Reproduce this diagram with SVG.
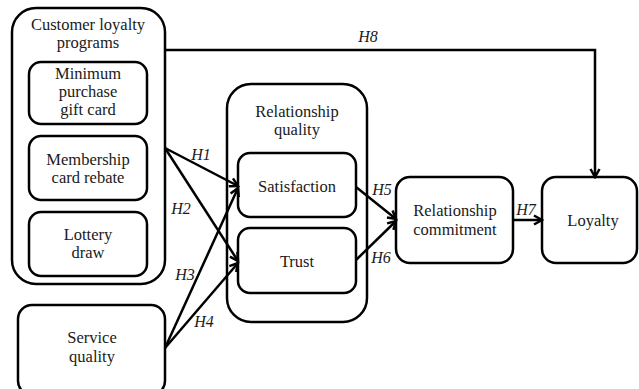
<svg xmlns="http://www.w3.org/2000/svg" width="639" height="389" viewBox="0 0 639 389">
<style>
.box{fill:#fff;stroke:#000;stroke-width:2.5}
.t{font-family:'Liberation Serif','DejaVu Serif',serif;font-size:16.5px;fill:#1a1a1a;text-anchor:middle}
.h{font-family:'Liberation Serif','DejaVu Serif',serif;font-size:16px;font-style:italic;fill:#1a1a1a;text-anchor:middle}
.c{fill:none;stroke:#000;stroke-width:2.5}
</style>
<defs>
<marker id="ah" markerWidth="12" markerHeight="12" viewBox="0 0 12 12" refX="10" refY="6" orient="auto" markerUnits="userSpaceOnUse">
<path d="M2,1.5 L10,6 L2,10.5" fill="none" stroke="#000" stroke-width="2.5"/>
</marker>
</defs>
<rect width="639" height="389" fill="#fff"/>
<g id="clp">
<rect class="box" x="12" y="8" width="153" height="276" rx="24"/>
<text class="t" x="88" y="30">Customer loyalty</text>
<text class="t" x="88" y="48">programs</text>
</g>
<g id="min">
<rect class="box" x="29" y="62" width="118" height="62" rx="12"/>
<text class="t" x="88" y="79">Minimum</text>
<text class="t" x="88" y="97">purchase</text>
<text class="t" x="88" y="115">gift card</text>
</g>
<g id="mem">
<rect class="box" x="29" y="136" width="118" height="64" rx="12"/>
<text class="t" x="88" y="165">Membership</text>
<text class="t" x="88" y="183">card rebate</text>
</g>
<g id="lot">
<rect class="box" x="29" y="212" width="118" height="64" rx="12"/>
<text class="t" x="88" y="240">Lottery</text>
<text class="t" x="88" y="258">draw</text>
</g>
<g id="sq">
<rect class="box" x="18" y="305" width="147" height="90" rx="14"/>
<text class="t" x="92" y="343">Service</text>
<text class="t" x="92" y="362">quality</text>
</g>
<g id="rq">
<rect class="box" x="227" y="84" width="140" height="238" rx="24"/>
<text class="t" x="297" y="117">Relationship</text>
<text class="t" x="297" y="135">quality</text>
</g>
<g id="sat">
<rect class="box" x="238" y="153" width="118" height="64" rx="12"/>
<text class="t" x="297" y="192">Satisfaction</text>
</g>
<g id="trust">
<rect class="box" x="238" y="228" width="118" height="65" rx="12"/>
<text class="t" x="297" y="267">Trust</text>
</g>
<g id="rc">
<rect class="box" x="396" y="177" width="117" height="86" rx="14"/>
<text class="t" x="455" y="216">Relationship</text>
<text class="t" x="455" y="235">commitment</text>
</g>
<g id="loy">
<rect class="box" x="542" y="177" width="95" height="86" rx="14"/>
<text class="t" x="593" y="226">Loyalty</text>
</g>
<g id="connectors">
<path class="c" d="M165,50 H595 V177" marker-end="url(#ah)"/>
<line class="c" x1="165" y1="148" x2="238" y2="186" marker-end="url(#ah)"/>
<line class="c" x1="165" y1="148" x2="238" y2="261" marker-end="url(#ah)"/>
<line class="c" x1="165" y1="348" x2="238" y2="188" marker-end="url(#ah)"/>
<line class="c" x1="165" y1="348" x2="238" y2="263" marker-end="url(#ah)"/>
<line class="c" x1="356" y1="187" x2="396" y2="219" marker-end="url(#ah)"/>
<line class="c" x1="356" y1="260" x2="396" y2="221" marker-end="url(#ah)"/>
<line class="c" x1="513" y1="220" x2="542" y2="220" marker-end="url(#ah)"/>
<text class="h" x="368" y="42">H8</text>
<text class="h" x="201" y="160">H1</text>
<text class="h" x="181" y="214">H2</text>
<text class="h" x="185" y="280">H3</text>
<text class="h" x="204" y="327">H4</text>
<text class="h" x="382" y="195">H5</text>
<text class="h" x="381" y="263">H6</text>
<text class="h" x="526" y="215">H7</text>
</g>
</svg>
